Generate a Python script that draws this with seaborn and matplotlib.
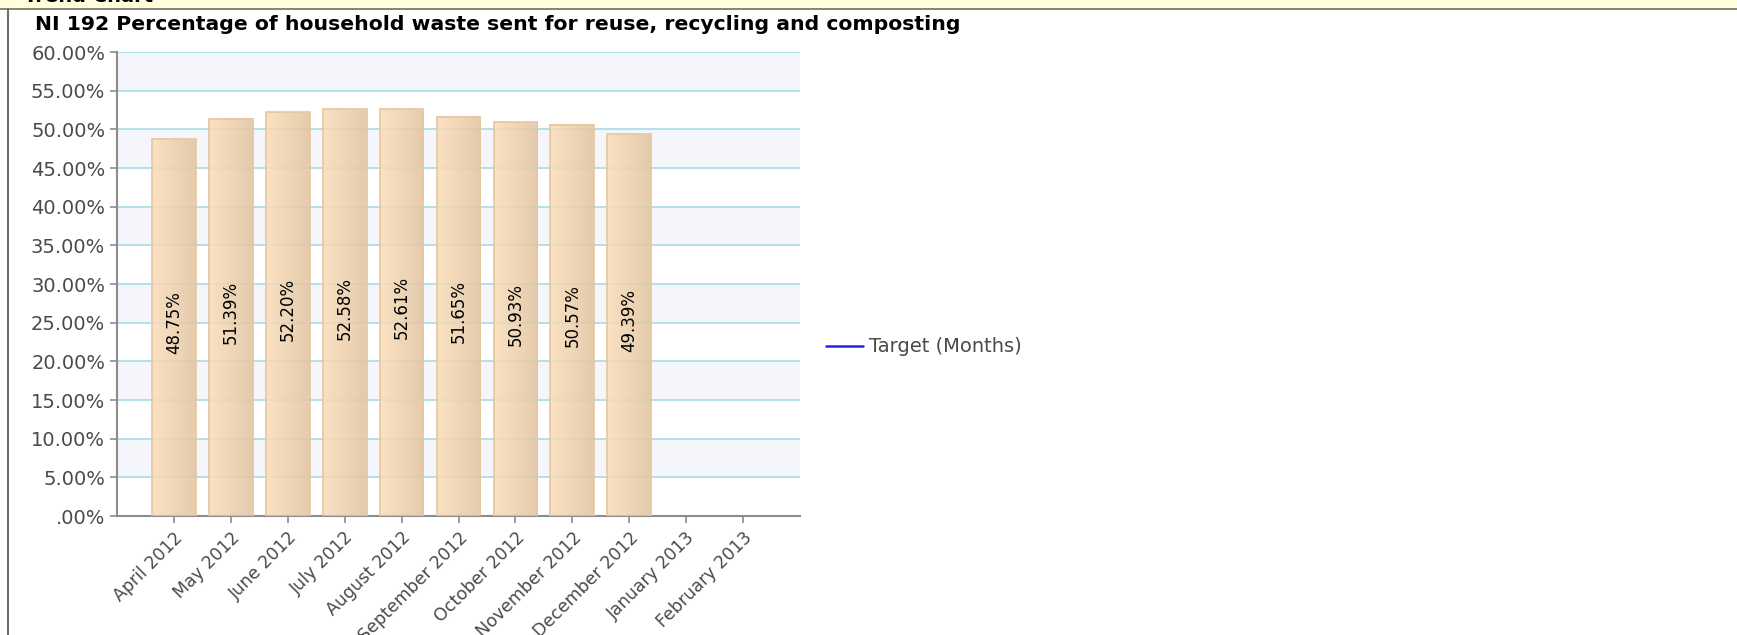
"""
plot.py - NI 192 household waste recycling trend chart
"""

import numpy as np
import pandas as pd
import matplotlib
matplotlib.use("Agg")
import matplotlib.pyplot as plt
from matplotlib.colors import LinearSegmentedColormap
from matplotlib.lines import Line2D
from matplotlib.patches import Rectangle
import seaborn as sns

months = ["April 2012", "May 2012", "June 2012", "July 2012", "August 2012",
          "September 2012", "October 2012", "November 2012", "December 2012",
          "January 2013", "February 2013"]
recycling_pct = [48.75, 51.39, 52.20, 52.58, 52.61, 51.65, 50.93, 50.57, 49.39,
                 np.nan, np.nan]
y_ticks = [0, 5, 10, 15, 20, 25, 30, 35, 40, 45, 50, 55, 60]
y_tick_labels = [".00%", "5.00%", "10.00%", "15.00%", "20.00%", "25.00%", "30.00%",
                 "35.00%", "40.00%", "45.00%", "50.00%", "55.00%", "60.00%"]
title = "NI 192 Percentage of household waste sent for reuse, recycling and composting"
legend_label = "Target (Months)"

COLORS = {
    "bar_left" : "#FADEBA",
    "bar_right": "#E2C5A2",
    "bar_edge" : "#E6C6A0",
    "grid"     : "#ADDEE6",
    "band"     : "#F5F6FC",
    "axis"     : "#8C8C8C",
    "text"     : "#4A4A4A",
    "target"   : "#2424F0",
    "header"   : "#FFFFDC",
    "border"   : "#6F6F62",
}

sns.set_style("white")
plt.rcParams["font.family"] = ["DejaVu Sans"]

df = pd.DataFrame({"Month": months, "Pct": recycling_pct})

W, H = 1737, 635
fig = plt.figure(figsize=(W / 100, H / 100), dpi=100)
ax = fig.add_axes([117 / W, 1 - 516 / H, (800 - 117) / W, (516 - 52) / H])

sns.barplot(data=df, x="Month", y="Pct", order=months, width=0.77,
            color=COLORS["bar_left"], edgecolor=COLORS["bar_edge"],
            linewidth=1.2, errorbar=None, ax=ax)

# horizontal gradient on each bar, slightly see-through like the original
cmap = LinearSegmentedColormap.from_list("peach", [COLORS["bar_left"], COLORS["bar_right"]])
grad = np.linspace(0, 1, 64).reshape(1, -1)
for bar in list(ax.patches):
    h = bar.get_height()
    if not np.isfinite(h) or h <= 0:
        continue
    x0 = bar.get_x()
    x1 = x0 + bar.get_width()
    bar.set_facecolor("none")
    bar.set_zorder(3)
    ax.imshow(grad, extent=(x0, x1, 0, h), aspect="auto", cmap=cmap,
              alpha=0.88, zorder=2.5, interpolation="bicubic")
    ax.text(x0 + (x1 - x0) / 2, h / 2 + 0.6, f"{h:.2f}%", rotation=90,
            ha="center", va="center", fontsize=12, color="black", zorder=4)

# alternating background bands + grid
for lo in y_ticks[1::2]:
    ax.axhspan(lo, lo + 5, color=COLORS["band"], zorder=0.2, lw=0)
ax.set_axisbelow(True)
ax.yaxis.grid(True, color=COLORS["grid"], linewidth=1.3, zorder=0.5)
ax.xaxis.grid(False)

ax.set_xlim(-1, 11)
ax.set_ylim(0, 60)
ax.set_yticks(y_ticks)
ax.set_yticklabels(y_tick_labels, fontsize=14, color=COLORS["text"])
ax.set_xticks(range(len(months)))
ax.set_xticklabels(months, rotation=45, ha="right", va="top",
                   rotation_mode="anchor", fontsize=12.5, color=COLORS["text"])
ax.set_xlabel("")
ax.set_ylabel("")
ax.tick_params(axis="both", direction="out", length=5, width=1.2,
               color=COLORS["axis"], left=True, bottom=True)
ax.tick_params(axis="x", pad=4)

for side in ["top", "right"]:
    ax.spines[side].set_visible(False)
for side in ["left", "bottom"]:
    ax.spines[side].set_color(COLORS["axis"])
    ax.spines[side].set_linewidth(1.5)

# legend for the (empty) target series
handle = Line2D([], [], color=COLORS["target"], linewidth=1.8)
fig.legend([handle], [legend_label], loc="center left",
           bbox_to_anchor=(818 / W, 1 - 347 / H), frameon=False,
           fontsize=14, handlelength=1.9, handletextpad=0.3,
           borderaxespad=0, labelcolor=COLORS["text"])

# panel frame: yellow header strip and left border
fig.patches.append(Rectangle((0, 1 - 9 / H), 1, 9 / H, transform=fig.transFigure,
                             facecolor=COLORS["header"], edgecolor="none", zorder=0))
fig.add_artist(Line2D([0, 1], [1 - 9 / H, 1 - 9 / H], transform=fig.transFigure,
                      color=COLORS["border"], linewidth=1.2))
fig.add_artist(Line2D([8 / W, 8 / W], [0, 1 - 9 / H], transform=fig.transFigure,
                      color=COLORS["border"], linewidth=1.5))
fig.text(24 / W, 1 - 2 / H, "Trend Chart", fontsize=14, fontweight="bold",
         va="baseline", ha="left", color="black")

fig.text(35 / W, 1 - 24 / H, title, fontsize=14.7, fontweight="bold",
         va="center", ha="left", color="black")

fig.savefig("out.png", dpi=100)
